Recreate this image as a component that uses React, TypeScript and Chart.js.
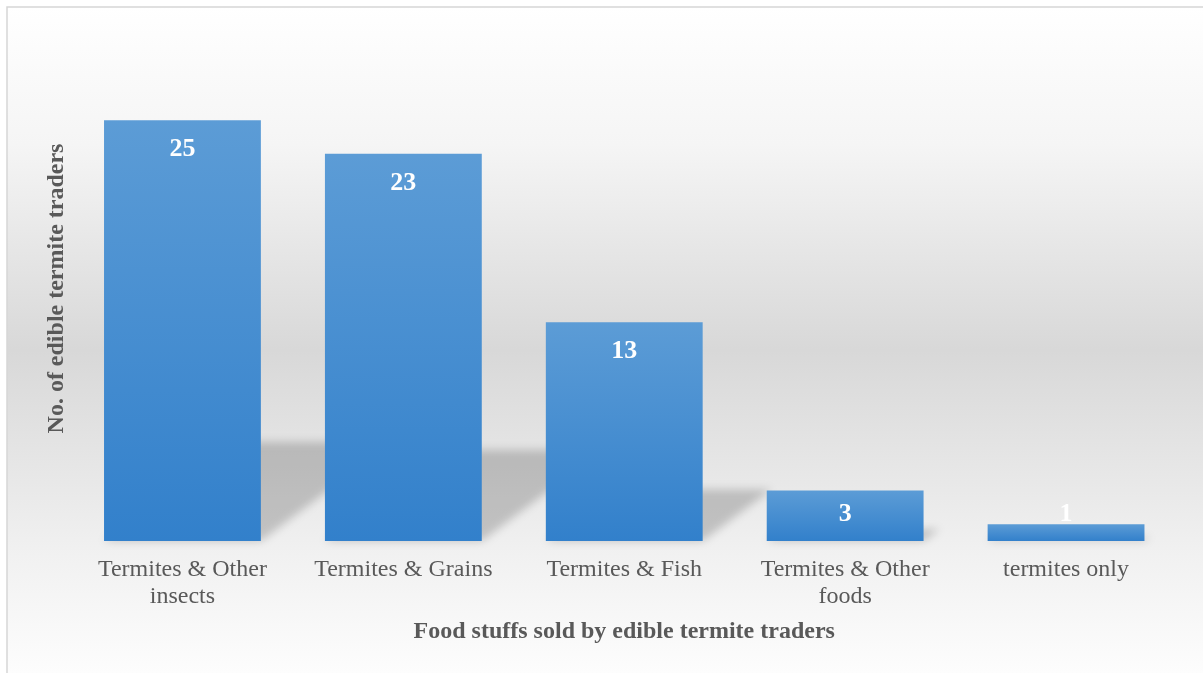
import React, { useEffect, useRef } from 'react';
import { Chart, registerables } from 'chart.js';

Chart.register(...registerables);

const categories: (string | string[])[] = [
  ['Termites & Other', 'insects'],
  'Termites & Grains',
  'Termites & Fish',
  ['Termites & Other', 'foods'],
  'termites only',
];
const traders = [25, 23, 13, 3, 1];
const xTitle = 'Food stuffs sold by edible termite traders';
const yTitle = 'No. of edible termite traders';
const yMin = 0;
const yMax = 30;

const SERIF = "'Liberation Serif', 'Times New Roman', Times, serif";

const bgPlugin = {
  id: 'bgPlugin',
  beforeDraw(chart: any) {
    const { ctx, width, height } = chart;
    ctx.save();
    ctx.fillStyle = '#ffffff';
    ctx.fillRect(0, 0, width, height);
    const g = ctx.createLinearGradient(0, 7, 0, 693);
    g.addColorStop(0, '#ffffff');
    g.addColorStop(0.2, '#f5f5f5');
    g.addColorStop(0.5, '#d8d8d8');
    g.addColorStop(0.8, '#f1f1f1');
    g.addColorStop(1, '#ffffff');
    ctx.fillStyle = g;
    ctx.fillRect(7, 7, width - 7, height - 7);
    ctx.strokeStyle = '#d6d6d6';
    ctx.lineWidth = 1.5;
    ctx.beginPath();
    ctx.moveTo(7, height + 5);
    ctx.lineTo(7, 7);
    ctx.lineTo(width + 5, 7);
    ctx.stroke();
    ctx.restore();
  },
};

const shadowPlugin = {
  id: 'shadowPlugin',
  beforeDatasetsDraw(chart: any) {
    const { ctx } = chart;
    const meta = chart.getDatasetMeta(0);
    ctx.save();
    ctx.filter = 'blur(4px)';
    ctx.fillStyle = 'rgba(0,0,0,0.19)';
    meta.data.forEach((el: any) => {
      const x0 = el.x - el.width / 2;
      const x1 = el.x + el.width / 2;
      const h = el.base - el.y;
      const sh = h * 0.235;
      const dx = sh / 0.75;
      ctx.beginPath();
      ctx.moveTo(x0, el.base);
      ctx.lineTo(x1, el.base);
      ctx.lineTo(x1 + dx, el.base - sh);
      ctx.lineTo(x0 + dx, el.base - sh);
      ctx.closePath();
      ctx.fill();
    });
    ctx.restore();
  },
};

const labelPlugin = {
  id: 'labelPlugin',
  afterDatasetsDraw(chart: any) {
    const { ctx } = chart;
    const meta = chart.getDatasetMeta(0);
    ctx.save();
    ctx.fillStyle = '#ffffff';
    ctx.font = `bold 26px ${SERIF}`;
    ctx.textAlign = 'center';
    ctx.textBaseline = 'middle';
    meta.data.forEach((el: any, i: number) => {
      const y = Math.min(el.y + 29.5, el.base - 27);
      ctx.fillText(String(traders[i]), el.x, y);
    });
    ctx.restore();
  },
};

export default function App() {
  const ref = useRef<HTMLCanvasElement>(null);

  useEffect(() => {
    document.body.style.margin = '0';
    const canvas = ref.current!;
    const chart = new Chart(canvas, {
      type: 'bar',
      data: {
        labels: categories,
        datasets: [
          {
            label: yTitle,
            data: traders,
            barPercentage: 0.71,
            categoryPercentage: 1.0,
            borderWidth: 0,
            backgroundColor: (c: any) => {
              const ch = c.chart;
              if (!ch.chartArea || c.type !== 'data' || !ch.scales.y) return '#4a8fd2';
              const ys = ch.scales.y;
              const top = ys.getPixelForValue(c.raw as number);
              const base = ys.getPixelForValue(0);
              if (!isFinite(top) || !isFinite(base) || base - top < 1) return '#4a8fd2';
              const g = ch.ctx.createLinearGradient(0, top, 0, base);
              g.addColorStop(0, '#5c9cd6');
              g.addColorStop(1, '#3280cb');
              return g;
            },
          },
        ],
      },
      options: {
        responsive: false,
        devicePixelRatio: 1,
        animation: false,
        events: [],
        layout: { padding: { top: 36, right: 26.5, left: 0, bottom: 0 } },
        plugins: {
          legend: { display: false },
          tooltip: { enabled: false },
        },
        scales: {
          x: {
            grid: { display: false, drawTicks: false },
            border: { display: false },
            ticks: {
              color: '#595959',
              font: { family: SERIF, size: 24, lineHeight: 1.125 },
              padding: 15.5,
              maxRotation: 0,
              autoSkip: false,
            },
            title: {
              display: true,
              text: xTitle,
              color: '#595959',
              font: { family: SERIF, size: 24, weight: 'bold', lineHeight: 1.2 },
              padding: { top: 0, bottom: 26.6 },
            },
            afterFit(scale: any) {
              scale.height = 132;
            },
          },
          y: {
            min: yMin,
            max: yMax,
            grid: { display: false, drawTicks: false },
            border: { display: false },
            ticks: { display: false },
            title: {
              display: true,
              text: yTitle,
              color: '#595959',
              font: { family: SERIF, size: 24, weight: 'bold', lineHeight: 1.2 },
              padding: { top: 42.6, bottom: 0 },
            },
            afterFit(scale: any) {
              scale.width = 72;
            },
          },
        },
      },
      plugins: [bgPlugin, shadowPlugin, labelPlugin],
    } as any);
    return () => chart.destroy();
  }, []);

  return (
    <div style={{ width: 1203, height: 673 }}>
      <canvas ref={ref} width={1203} height={673} style={{ display: 'block' }} />
    </div>
  );
}
